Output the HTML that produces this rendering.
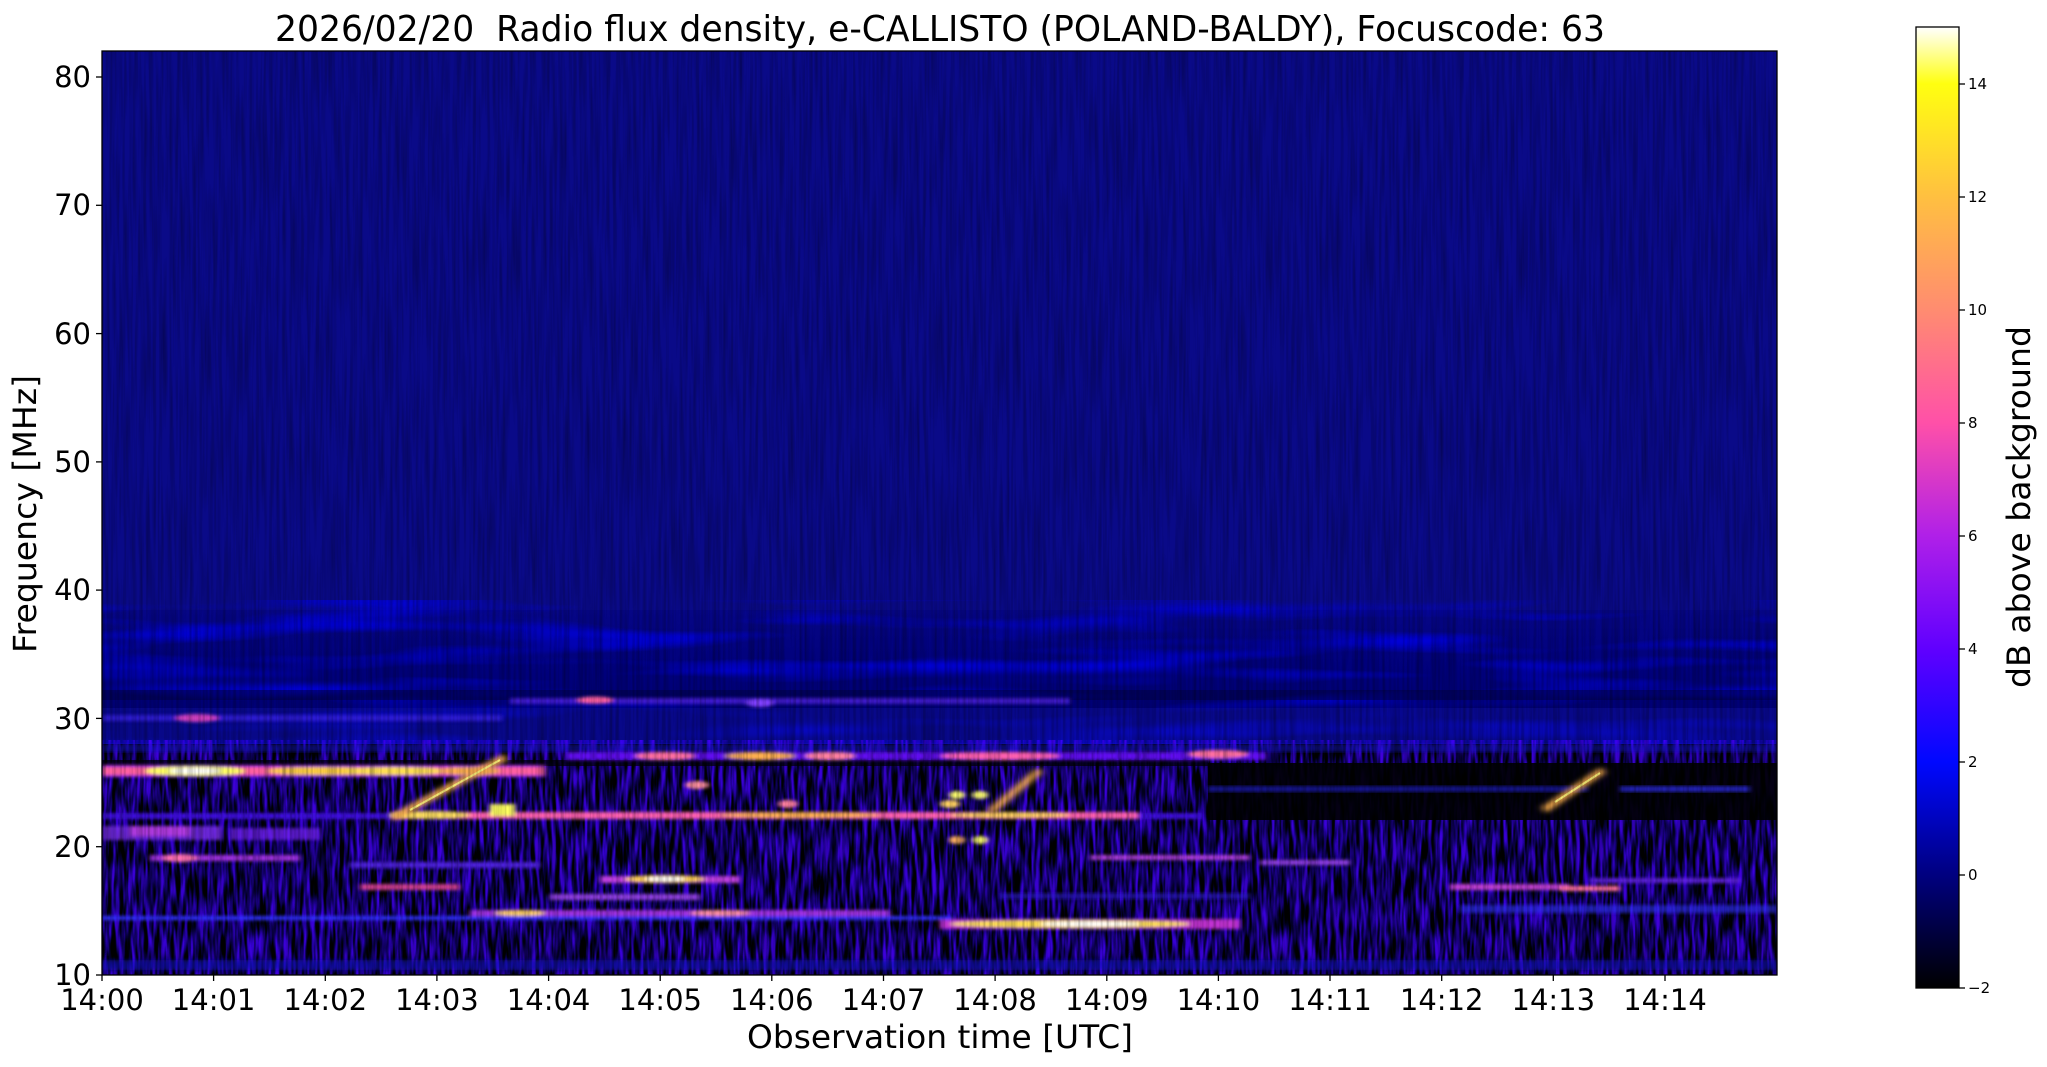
<!DOCTYPE html>
<html><head><meta charset="utf-8"><style>
html,body{margin:0;padding:0;background:#fff;}
svg{display:block;}
text{font-family:"DejaVu Sans","Liberation Sans",sans-serif;fill:#000;white-space:pre;}
</style></head><body>
<svg width="2047" height="1067" viewBox="0 0 2047 1067" xmlns="http://www.w3.org/2000/svg" xml:space="preserve">
<defs>
<clipPath id="pc"><rect x="102" y="51" width="1675" height="924"/></clipPath>
<filter id="vn" x="102" y="51" width="1675" height="924" filterUnits="userSpaceOnUse">
<feTurbulence type="fractalNoise" baseFrequency="0.3 0.01" numOctaves="2" seed="3"/>
<feColorMatrix values="0 0 0 0 0  0 0 0 0 0  0 0 0 0 0  0.6 0 0 0 -0.22"/>
</filter>
<filter id="bn" x="102" y="740" width="1675" height="240" filterUnits="userSpaceOnUse">
<feTurbulence type="fractalNoise" baseFrequency="0.25 0.03" numOctaves="2" seed="7"/>
<feColorMatrix values="0.3 0 0 0 -0.1  0 0 0 0 0  0 0 0 0 0  2.6 0 0 0 -0.85"/>
<feComponentTransfer><feFuncB type="linear" slope="0" intercept="1"/><feFuncR type="linear" slope="0.5" intercept="0"/></feComponentTransfer>
</filter>
<filter id="rn" x="102" y="600" width="1675" height="150" filterUnits="userSpaceOnUse">
<feTurbulence type="fractalNoise" baseFrequency="0.004 0.05" numOctaves="2" seed="11"/>
<feColorMatrix values="0 0 0 0 0  0 0 0 0 0  0 0 0 0 0.9  0 0 0 -2.2 1.2"/>
</filter>
<filter id="bl"><feGaussianBlur stdDeviation="2.5 1.5"/></filter>
<filter id="bl2"><feGaussianBlur stdDeviation="4 2"/></filter>
<linearGradient id="cb" x1="0" y1="0" x2="0" y2="1">
<stop offset="0" stop-color="#ffffff"/>
<stop offset="0.059" stop-color="#ffff10"/>
<stop offset="0.176" stop-color="#ffc040"/>
<stop offset="0.294" stop-color="#ff8c70"/>
<stop offset="0.412" stop-color="#ff50a8"/>
<stop offset="0.529" stop-color="#b020e8"/>
<stop offset="0.647" stop-color="#6000ff"/>
<stop offset="0.765" stop-color="#0008ff"/>
<stop offset="0.882" stop-color="#000080"/>
<stop offset="1" stop-color="#000000"/>
</linearGradient>
<linearGradient id="ripple" x1="0" y1="0" x2="0" y2="1">
<stop offset="0" stop-color="#060686"/>
<stop offset="0.5" stop-color="#00007a"/>
<stop offset="1" stop-color="#000070"/>
</linearGradient>
</defs>

<g clip-path="url(#pc)">
<rect x="102" y="51" width="1675" height="924" fill="#0a0a88"/>
<rect x="102" y="610" width="1675" height="135" fill="url(#ripple)"/>
<rect x="102" y="610" width="1675" height="135" filter="url(#rn)"/>
<rect x="102" y="690" width="1675" height="10" fill="#000040" opacity="0.5"/>
<rect x="102" y="708" width="1675" height="36" fill="#1010a0" opacity="0.5"/>
<rect x="102" y="744" width="1675" height="231" fill="#000000"/>
<rect x="102" y="744" width="1675" height="231" filter="url(#bn)" opacity="0.85"/>
<rect x="1208" y="763" width="569" height="57" fill="#000" opacity="0.9"/>
<rect x="1208" y="786" width="380" height="6" fill="#2020e0" opacity="0.6" filter="url(#bl)"/>
<rect x="1620" y="786" width="130" height="6" fill="#3030ff" opacity="0.7" filter="url(#bl)"/>
<rect x="102" y="760" width="1106" height="6" fill="#000" opacity="0.7"/>
<rect x="102" y="744" width="1675" height="8" fill="#1818d0" opacity="0.5" filter="url(#bl)"/>
<g filter="url(#bl)">
<rect x="102" y="715" width="400" height="6" fill="#3a20e0" opacity="0.8"/>
<ellipse cx="197" cy="718" rx="22" ry="4" fill="#d040c0"/>
<rect x="510" y="698" width="560" height="6" fill="#5020e0" opacity="0.8"/>
<ellipse cx="595" cy="700" rx="18" ry="3.5" fill="#ff60a0"/>
<ellipse cx="760" cy="703" rx="14" ry="4" fill="#8040ff"/>
<rect x="102" y="765" width="443" height="12" fill="#a020e0"/>
<rect x="102" y="767" width="443" height="8" fill="#ff60a0"/>
<ellipse cx="195" cy="771" rx="50" ry="5" fill="#ffff60"/>
<ellipse cx="195" cy="771" rx="26" ry="3" fill="#ffffff"/>
<ellipse cx="322" cy="771" rx="55" ry="4" fill="#ffd040"/>
<ellipse cx="395" cy="771" rx="50" ry="4" fill="#ffe050"/>
<ellipse cx="470" cy="771" rx="30" ry="4" fill="#ffb050"/>
<rect x="566" y="752" width="700" height="8" fill="#6010f0"/>
<ellipse cx="665" cy="756" rx="30" ry="4" fill="#ff70a0"/>
<ellipse cx="760" cy="756" rx="35" ry="4" fill="#ffb050"/>
<ellipse cx="830" cy="756" rx="25" ry="4" fill="#ff80a0"/>
<ellipse cx="1000" cy="756" rx="60" ry="4" fill="#ff60b0"/>
<ellipse cx="1218" cy="754" rx="30" ry="4" fill="#ff70a0"/>
<rect x="102" y="813" width="1100" height="6" fill="#4010e0"/>
<rect x="393" y="812" width="745" height="7" fill="#ff60b0"/>
<ellipse cx="430" cy="815" rx="40" ry="4" fill="#ffe060"/>
<ellipse cx="800" cy="815" rx="80" ry="3" fill="#ffb050"/>
<ellipse cx="1010" cy="815" rx="60" ry="3" fill="#ffd060"/>
<rect x="490" y="804" width="25" height="12" fill="#ffff60"/>
<ellipse cx="697" cy="785" rx="12" ry="4" fill="#ff90a0"/>
<ellipse cx="788" cy="804" rx="10" ry="4" fill="#ff80a0"/>
<ellipse cx="950" cy="804" rx="10" ry="4" fill="#ffd060"/>
<ellipse cx="957" cy="795" rx="8" ry="4" fill="#ffff70"/>
<ellipse cx="980" cy="795" rx="8" ry="4" fill="#ffff70"/>
<ellipse cx="957" cy="840" rx="8" ry="4" fill="#ffb060"/>
<ellipse cx="980" cy="840" rx="8" ry="4" fill="#ffff70"/>
<rect x="102" y="826" width="120" height="14" fill="#8030f0" opacity="0.8"/>
<rect x="130" y="826" width="60" height="10" fill="#c040e0" opacity="0.8"/>
<rect x="230" y="828" width="90" height="12" fill="#7020f0" opacity="0.8"/>
<rect x="150" y="855" width="150" height="6" fill="#a030e0"/>
<ellipse cx="180" cy="858" rx="18" ry="4" fill="#ff70b0"/>
<rect x="350" y="862" width="190" height="6" fill="#5020e0"/>
<rect x="1090" y="855" width="160" height="5" fill="#b040e0"/>
<rect x="1260" y="860" width="90" height="5" fill="#9040e0"/>
<rect x="600" y="876" width="140" height="7" fill="#c040e0"/>
<ellipse cx="665" cy="879" rx="40" ry="4" fill="#ffd050"/>
<ellipse cx="665" cy="879" rx="20" ry="2.5" fill="#ffffff"/>
<rect x="360" y="884" width="100" height="6" fill="#d04090"/>
<rect x="550" y="894" width="150" height="6" fill="#9040e0"/>
<rect x="1450" y="884" width="120" height="6" fill="#c040d0"/>
<rect x="1560" y="886" width="60" height="5" fill="#ff70a0"/>
<rect x="1590" y="878" width="150" height="5" fill="#6020e0"/>
<rect x="470" y="910" width="420" height="6" fill="#a030e0"/>
<ellipse cx="520" cy="913" rx="25" ry="3" fill="#ffd060"/>
<ellipse cx="720" cy="913" rx="30" ry="3" fill="#ff90a0"/>
<rect x="940" y="919" width="300" height="10" fill="#c030d0"/>
<ellipse cx="1070" cy="924" rx="120" ry="4" fill="#ffe050"/>
<ellipse cx="1090" cy="924" rx="50" ry="2.5" fill="#ffffff"/>
<rect x="102" y="916" width="850" height="4" fill="#3030ff"/>
<rect x="102" y="960" width="1675" height="10" fill="#1818c0" opacity="0.6"/>
<rect x="1460" y="905" width="317" height="8" fill="#3030f0" opacity="0.7"/>
<rect x="1000" y="893" width="250" height="6" fill="#3020e0" opacity="0.6"/>
</g>
<g filter="url(#bl2)">
<path d="M393 818 L505 757" stroke="#ffb050" stroke-width="7"/>
<path d="M990 812 L1040 770" stroke="#ffb050" stroke-width="7"/>
<path d="M1544 810 L1603 770" stroke="#ffb050" stroke-width="7"/>
</g>
<path d="M410 810 L500 760" stroke="#ffff80" stroke-width="2" opacity="0.8"/>
<path d="M1555 802 L1600 773" stroke="#ffff80" stroke-width="2" opacity="0.8"/>
<rect x="102" y="51" width="1675" height="560" fill="#000060" filter="url(#vn)"/>
</g>
<rect x="102" y="51" width="1675" height="924" fill="none" stroke="#000" stroke-width="1.3"/>

<text x="940" y="41" font-size="36" text-anchor="middle" textLength="1330" lengthAdjust="spacingAndGlyphs">2026/02/20  Radio flux density, e-CALLISTO (POLAND-BALDY), Focuscode: 63</text>

<g stroke="#000" stroke-width="1.3">
<line x1="96" y1="975" x2="102" y2="975"/><line x1="96" y1="846.7" x2="102" y2="846.7"/>
<line x1="96" y1="718.4" x2="102" y2="718.4"/><line x1="96" y1="590.1" x2="102" y2="590.1"/>
<line x1="96" y1="461.9" x2="102" y2="461.9"/><line x1="96" y1="333.6" x2="102" y2="333.6"/>
<line x1="96" y1="205.3" x2="102" y2="205.3"/><line x1="96" y1="77" x2="102" y2="77"/>
</g>
<g font-size="29" text-anchor="end">
<text x="91" y="985">10</text><text x="91" y="857">20</text><text x="91" y="729">30</text>
<text x="91" y="600">40</text><text x="91" y="472">50</text><text x="91" y="344">60</text>
<text x="91" y="215">70</text><text x="91" y="87">80</text>
</g>
<g stroke="#000" stroke-width="1.3">
<line x1="102" y1="975" x2="102" y2="981"/><line x1="213.6" y1="975" x2="213.6" y2="981"/>
<line x1="325.3" y1="975" x2="325.3" y2="981"/><line x1="436.9" y1="975" x2="436.9" y2="981"/>
<line x1="548.6" y1="975" x2="548.6" y2="981"/><line x1="660.2" y1="975" x2="660.2" y2="981"/>
<line x1="771.8" y1="975" x2="771.8" y2="981"/><line x1="883.5" y1="975" x2="883.5" y2="981"/>
<line x1="995.1" y1="975" x2="995.1" y2="981"/><line x1="1106.8" y1="975" x2="1106.8" y2="981"/>
<line x1="1218.4" y1="975" x2="1218.4" y2="981"/><line x1="1330" y1="975" x2="1330" y2="981"/>
<line x1="1441.7" y1="975" x2="1441.7" y2="981"/><line x1="1553.3" y1="975" x2="1553.3" y2="981"/>
<line x1="1665" y1="975" x2="1665" y2="981"/>
</g>
<g font-size="29" text-anchor="middle">
<text x="102" y="1010">14:00</text><text x="213.6" y="1010">14:01</text><text x="325.3" y="1010">14:02</text>
<text x="436.9" y="1010">14:03</text><text x="548.6" y="1010">14:04</text><text x="660.2" y="1010">14:05</text>
<text x="771.8" y="1010">14:06</text><text x="883.5" y="1010">14:07</text><text x="995.1" y="1010">14:08</text>
<text x="1106.8" y="1010">14:09</text><text x="1218.4" y="1010">14:10</text><text x="1330" y="1010">14:11</text>
<text x="1441.7" y="1010">14:12</text><text x="1553.3" y="1010">14:13</text><text x="1665" y="1010">14:14</text>
</g>
<text x="940" y="1048" font-size="32" text-anchor="middle" textLength="386" lengthAdjust="spacingAndGlyphs">Observation time [UTC]</text>
<text transform="translate(36,514) rotate(-90)" font-size="32" text-anchor="middle" textLength="278" lengthAdjust="spacingAndGlyphs">Frequency [MHz]</text>

<rect x="1916" y="27" width="43" height="961" fill="url(#cb)" stroke="#000" stroke-width="1.3"/>
<g stroke="#000" stroke-width="1.3">
<line x1="1959" y1="988" x2="1965" y2="988"/><line x1="1959" y1="875" x2="1965" y2="875"/>
<line x1="1959" y1="762" x2="1965" y2="762"/><line x1="1959" y1="649" x2="1965" y2="649"/>
<line x1="1959" y1="536" x2="1965" y2="536"/><line x1="1959" y1="423" x2="1965" y2="423"/>
<line x1="1959" y1="310" x2="1965" y2="310"/><line x1="1959" y1="197" x2="1965" y2="197"/>
<line x1="1959" y1="84" x2="1965" y2="84"/>
</g>
<g font-size="15">
<text x="1968" y="993">−2</text><text x="1968" y="880">0</text><text x="1968" y="767">2</text>
<text x="1968" y="654">4</text><text x="1968" y="541">6</text><text x="1968" y="428">8</text>
<text x="1968" y="315">10</text><text x="1968" y="202">12</text><text x="1968" y="89">14</text>
</g>
<text transform="translate(2030,507) rotate(-90)" font-size="32" text-anchor="middle" textLength="362" lengthAdjust="spacingAndGlyphs">dB above background</text>
</svg>
</body></html>
